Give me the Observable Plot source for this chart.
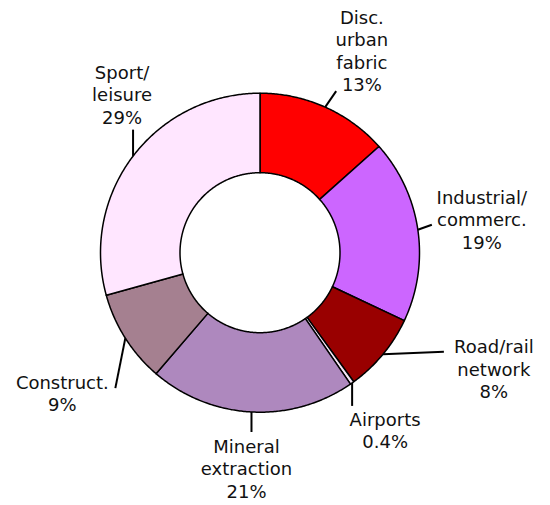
<!DOCTYPE html>
<html><head><meta charset="utf-8">
<script src="https://cdn.jsdelivr.net/npm/d3@7"></script>
<script src="https://cdn.jsdelivr.net/npm/@observablehq/plot@0.6"></script>
<style>html,body{margin:0;padding:0;background:#fff}</style>
</head><body><div id="chart"></div>
<script>
// ---- data ----
const categories = ["Disc.\nurban\nfabric", "Industrial/\ncommerc.", "Road/rail\nnetwork", "Airports", "Mineral\nextraction", "Construct.", "Sport/\nleisure"];
const shares = [13.4, 18.6, 8.0, 0.4, 20.9, 9.4, 29.3];
const shareLabels = ["13%", "19%", "8%", "0.4%", "21%", "9%", "29%"];

// ---- style / layout (not data) ----
const colors = ["#FF0000", "#CC66FF", "#990000", "#F6E6F6", "#AE88BE", "#A58090", "#FFE6FF"];
const W = 550, H = 505, CX = 259.5, CY = 252.2, R_OUT = 159.5, R_IN = 80;
// leader end and label anchor, as offsets from the slice's outer mid point
const leaderEnd = [[11,-16],[14,-5],[61,-2.5],[0,23],[0,20],[-10,50],[0,-26.5]];
const textAt   = [[36.7,-16],[64,19],[111,44],[33,65.5],[-5,86],[-63,73],[-11,-32.5]];

const arcs = d3.pie().sort(null).value(d => d)(shares);
const px = (a, r) => r * Math.sin(a);
const py = (a, r) => -r * Math.cos(a);

// slice outlines
const poly = [];
arcs.forEach((s, i) => {
  const n = Math.max(2, Math.ceil((s.endAngle - s.startAngle) / (Math.PI / 360)));
  const pts = [];
  for (let k = 0; k <= n; k++) { const a = s.startAngle + (s.endAngle - s.startAngle) * k / n; pts.push([px(a, R_OUT), py(a, R_OUT)]); }
  for (let k = n; k >= 0; k--) { const a = s.startAngle + (s.endAngle - s.startAngle) * k / n; pts.push([px(a, R_IN), py(a, R_IN)]); }
  pts.push(pts[0]);
  pts.forEach(p => poly.push({i, x: p[0], y: p[1], color: colors[i]}));
});

const labels = arcs.map((s, i) => {
  const a = (s.startAngle + s.endAngle) / 2;
  const mx = px(a, R_OUT), my = py(a, R_OUT);
  return {
    x1: mx, y1: my,
    x2: mx + leaderEnd[i][0], y2: my + leaderEnd[i][1],
    tx: mx + textAt[i][0], ty: my + textAt[i][1],
    text: categories[i] + "\n" + shareLabels[i]
  };
});

const chart = Plot.plot({
  width: W, height: H, margin: 0,
  x: {domain: [-CX, W - CX], range: [0, W], axis: null},
  y: {domain: [-CY, H - CY], range: [0, H], axis: null},
  color: {type: "identity"},
  style: {fontFamily: "DejaVu Sans", background: "#fff", color: "#000"},
  marks: [
    Plot.line(poly, {x: "x", y: "y", z: "i", fill: "color", stroke: "#000", strokeWidth: 1.5, curve: "linear"}),
    Plot.link(labels, {x1: "x1", y1: "y1", x2: "x2", y2: "y2", stroke: "#000", strokeWidth: 2}),
    Plot.text(labels, {x: "tx", y: "ty", text: "text", lineAnchor: "bottom", lineHeight: 1.25, fontSize: 18, textAnchor: "middle", fill: "#111"})
  ]
});
document.getElementById("chart").appendChild(chart);
</script>
</body></html>
